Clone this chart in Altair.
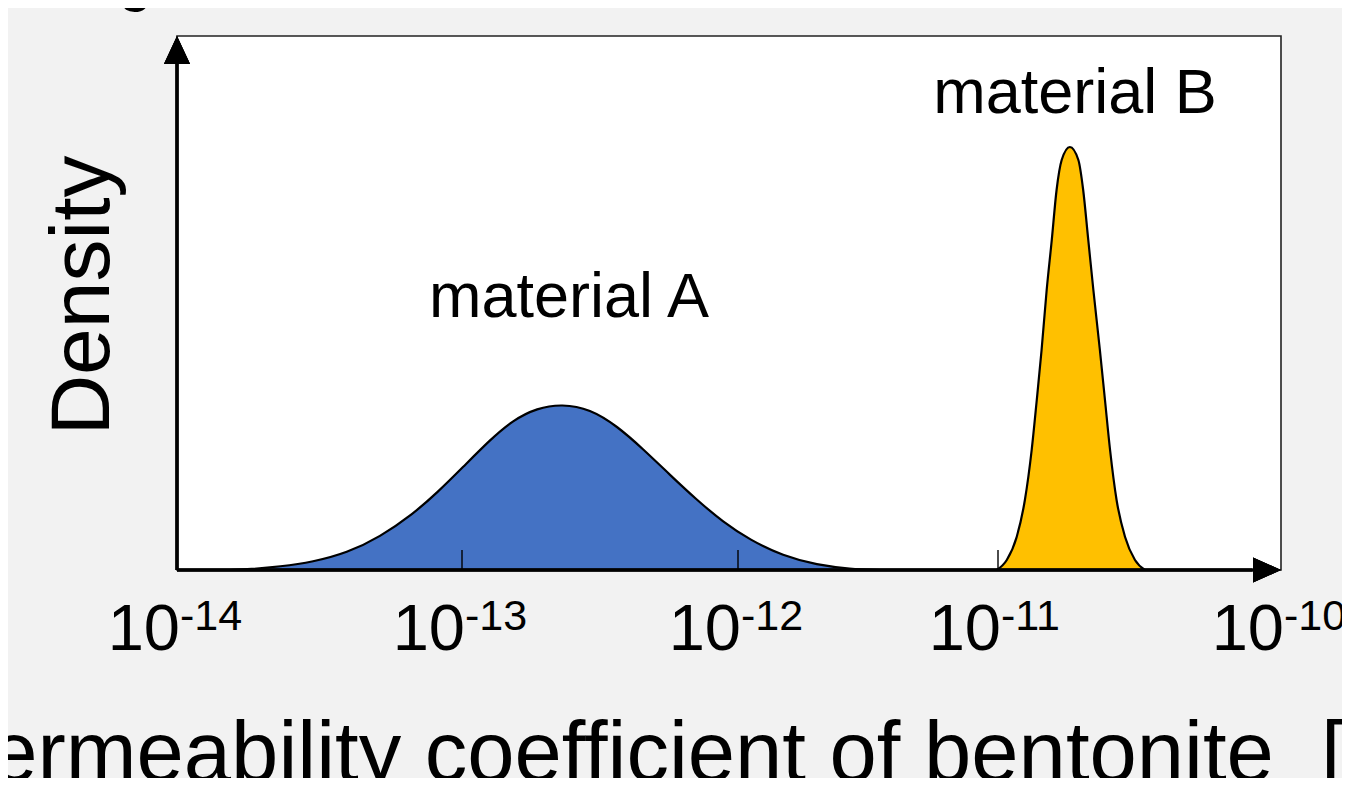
import altair as alt
import pandas as pd

# ---- data (x = log10 of permeability coefficient, y = density, arbitrary units)
a_logk = [-13.814, -13.744, -13.639, -13.523, -13.404, -13.288, -13.172, -13.088, -12.996,
          -12.899, -12.815, -12.728, -12.638, -12.536, -12.438, -12.344, -12.246, -12.149,
          -12.054, -11.954, -11.827, -11.696, -11.569, -11.454]
a_dens = [0, 0.8, 3.4, 8, 17, 33, 56, 77, 103, 130, 150, 162, 166, 161, 144, 121, 95, 70,
          48, 30, 14, 5, 1, 0]

b_logk = [-11.005, -10.969, -10.934, -10.905, -10.881, -10.863, -10.846, -10.828, -10.810,
          -10.793, -10.775, -10.746, -10.716, -10.699, -10.681, -10.663, -10.640, -10.622,
          -10.604, -10.581, -10.551, -10.516, -10.481]
b_dens = [0, 10, 33, 70, 120, 170, 220, 280, 330, 380, 410, 423, 410, 380, 330, 280, 220,
          170, 120, 70, 33, 10, 0]

tick_exp = [-14, -13, -12, -11, -10]
tick_base = ["10", "10", "10", "10", "10"]
tick_sup = ["-14", "-13", "-12", "-11", "-10"]
inner_ticks = [-13, -12, -11]

mat_labels = ["material A", "material B"]
mat_x = [-12.612, -10.728]
mat_y = [253, 457]

x_domain_pts = [-14, -13, -12, -11, -10]
x_range_px = [0, 285, 561, 821, 1104]
y_max = 534

FONT = "Liberation Sans"
W, H = 1104, 534

df_a = pd.DataFrame({"logk": a_logk, "dens": a_dens})
df_b = pd.DataFrame({"logk": b_logk, "dens": b_dens})
df_ticks = pd.DataFrame({"e": tick_exp, "base": tick_base, "sup": tick_sup})
df_inner = pd.DataFrame({"e": inner_ticks})
df_mat = pd.DataFrame({"label": mat_labels, "x": mat_x, "y": mat_y})

xscale = alt.Scale(domain=x_domain_pts, range=x_range_px, zero=False, nice=False)
yscale = alt.Scale(domain=[0, y_max], zero=True, nice=False)

x_axis = alt.Axis(domain=False, ticks=False, labels=False, grid=False,
                  title="Permeability coefficient of bentonite\u00a0\u00a0[m/s]",
                  titleFont=FONT, titleFontSize=85, titleFontWeight="normal",
                  titleColor="black", titleAlign="left", titleBaseline="alphabetic",
                  titleX=-244, titleY=210, titleAnchor="start")
y_axis = alt.Axis(domain=False, ticks=False, labels=False, grid=False,
                  title="Density", titleFont=FONT, titleFontSize=84,
                  titleFontWeight="normal", titleColor="black", titleAngle=270,
                  titleAlign="center", titleBaseline="alphabetic",
                  titleX=-69, titleY=259)

area_a = alt.Chart(df_a).mark_area(
    color="#4472C4", stroke="black", strokeWidth=2.2, interpolate="basis"
).encode(
    x=alt.X("logk:Q", scale=xscale, axis=x_axis),
    y=alt.Y("dens:Q", scale=yscale, axis=y_axis),
)

area_b = alt.Chart(df_b).mark_area(
    color="#FFC000", stroke="black", strokeWidth=2.2, interpolate="monotone"
).encode(
    x=alt.X("logk:Q", scale=xscale),
    y=alt.Y("dens:Q", scale=yscale),
)

inner = alt.Chart(df_inner).mark_rule(color="black", strokeWidth=1.4).encode(
    x=alt.X("e:Q", scale=xscale),
    y=alt.datum(0),
    y2=alt.datum(20),
)

y_line = alt.Chart(df_inner).mark_rule(color="black", strokeWidth=3).encode(
    x=alt.datum(-14), y=alt.datum(0), y2=alt.datum(y_max - 20)
)
x_line = alt.Chart(df_inner).mark_rule(color="black", strokeWidth=3).encode(
    y=alt.datum(0), x=alt.datum(-14), x2=alt.datum(-10.1)
)

up_arrow = alt.Chart(df_inner).mark_point(
    shape="M0,0L-0.93,2L0.93,2Z", size=784, filled=True, color="black", opacity=1
).encode(x=alt.datum(-14), y=alt.datum(y_max))

right_arrow = alt.Chart(df_inner).mark_point(
    shape="M0,0L-2,-0.9L-2,0.9Z", size=784, filled=True, color="black", opacity=1
).encode(x=alt.datum(-10), y=alt.datum(0))

base_lbl = alt.Chart(df_ticks).mark_text(
    font=FONT, fontSize=65, align="right", baseline="alphabetic", dx=3, color="black"
).encode(x=alt.X("e:Q", scale=xscale), y=alt.value(614), text="base:N")

sup_lbl = alt.Chart(df_ticks).mark_text(
    font=FONT, fontSize=43, align="left", baseline="alphabetic", dx=3, color="black"
).encode(x=alt.X("e:Q", scale=xscale), y=alt.value(594), text="sup:N")

mat_txt = alt.Chart(df_mat).mark_text(
    font=FONT, fontSize=63, align="center", baseline="alphabetic", color="black"
).encode(x=alt.X("x:Q", scale=xscale), y=alt.Y("y:Q", scale=yscale), text="label:N")

top_g = alt.Chart(pd.DataFrame({"t": ["g"]})).mark_text(
    font=FONT, fontSize=62, align="left", baseline="alphabetic", color="black"
).encode(x=alt.value(-59), y=alt.value(-37), text="t:N")

chart = alt.layer(
    area_a, area_b, inner, y_line, x_line, up_arrow, right_arrow,
    base_lbl, sup_lbl, mat_txt, top_g
).properties(
    width=W, height=H,
    autosize=alt.AutoSizeParams(type="none"),
    padding={"left": 169, "top": 28, "right": 61, "bottom": 208},
    background="#F2F2F2",
).configure(
    font=FONT
).configure_view(
    fill="white", stroke="#222222", strokeWidth=1.6
)

chart.save("out.html", embed_options={"renderer": "svg", "actions": False})
